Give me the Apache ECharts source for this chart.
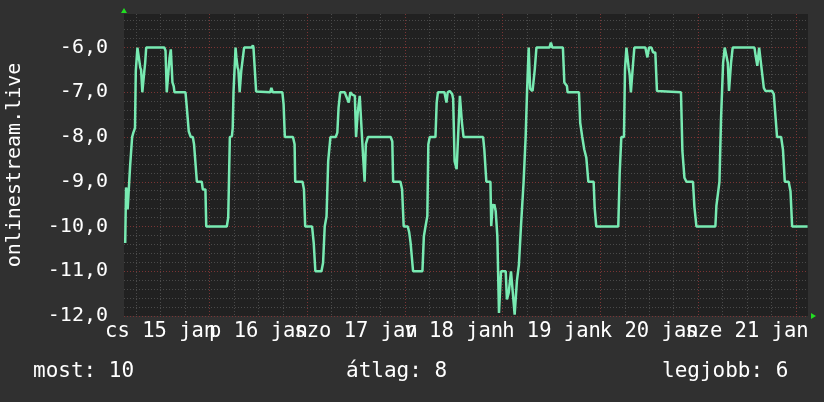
<!DOCTYPE html>
<html><head><meta charset="utf-8">
<script src="https://cdn.jsdelivr.net/npm/echarts@6/dist/echarts.min.js"></script>
<style>html,body{margin:0;padding:0;background:#303030;}#c{width:824px;height:402px;}</style>
</head><body><div id="c"></div><script>
// time in hours relative to Jan 16 00:00
const hours = [
-20.7,-20.5,-20.3,-20.1,-19.7,-19.5,-19.1,-19.0,-18.7,-18.3,-18.1,-17.85,-17.7,-17.3,-17.0,-16.8,-16.5,-16.2,-16.0,-15.8,-15.55,
-11.1,-10.8,-10.5,-10.1,-9.8,-9.5,-9.1,-8.8,-8.6,-5.9,-5.6,-5.3,-5.1,-4.6,-4.1,-3.8,-3.4,-3.1,-1.9,-1.65,-1.0,-0.8,
4.25,4.6,5.0,5.5,5.7,5.9,6.4,6.6,6.9,7.1,7.4,7.7,7.8,8.1,8.5,10.4,10.65,10.8,11.05,11.45,11.6,14.9,15.2,15.55,17.9,18.2,18.5,
20.5,20.9,21.05,22.85,23.2,23.5,25.2,25.6,26.0,27.5,27.9,28.3,28.75,29.15,29.7,31.0,31.4,31.7,32.1,33.2,34.2,34.6,35.05,35.7,
36.0,36.4,36.9,37.3,37.7,38.1,38.4,38.9,44.5,44.9,45.1,46.9,47.3,47.7,48.7,49.05,49.4,50.0,52.3,52.65,53.05,53.5,53.75,54.1,
55.5,55.8,56.1,57.7,58.2,58.5,59.0,59.6,59.85,60.2,60.7,61.5,62.0,62.4,67.2,67.5,68.0,69.0,69.2,69.55,69.8,69.95,70.3,70.7,
71.1,71.4,71.6,72.75,73.05,73.5,74.05,74.95,75.5,76.0,76.5,77.15,77.65,78.0,78.4,78.75,79.35,79.9,80.3,83.5,83.85,84.2,
86.8,87.15,87.8,87.95,90.75,91.05,91.55,92.05,92.55,93.05,94.35,94.6,95.0,100.4,100.75,101.15,101.8,102.05,102.4,102.7,
102.95,103.2,103.5,103.8,104.05,104.35,107.05,107.55,107.95,108.55,108.95,109.5,109.9,115.8,116.15,116.65,117.15,118.75,
119.1,119.35,119.6,124.25,124.5,124.85,125.25,125.65,126.15,126.55,126.95,127.3,127.6,128.1,128.5,133.85,134.15,134.55,
135.0,135.45,136.15,136.55,138.15,138.6,139.0,139.4,140.4,140.85,141.3,142.25,142.7,143.1,146.9
];
const values = [
-10.37,-9.13,-9.2,-9.62,-9.62,-8.65,-8.65,-8.0,-7.9,-7.8,-6.52,-6.49,-6.0,-6.0,-6.45,-6.5,-7.0,-7.0,-6.52,-6.34,-6.0,
-6.0,-6.07,-7.0,-7.0,-6.22,-6.04,-6.78,-6.86,-7.0,-7.0,-7.31,-7.34,-7.87,-8.0,-8.0,-8.16,-8.2,-9.0,-9.0,-9.17,-9.17,-10.0,
-10.0,-9.8,-8.0,-7.98,-7.8,-7.0,-6.0,-6.22,-6.45,-6.5,-7.0,-7.0,-6.52,-6.49,-6.0,-6.0,-5.95,-6.0,-6.04,-6.98,-7.0,-7.0,-6.9,-7.0,-7.0,-7.27,-8.0,
-8.0,-8.16,-9.0,-9.0,-9.17,-10.0,-10.0,-10.37,-11.0,-11.0,-10.81,-10.0,-9.77,-8.54,-8.0,-8.0,-7.9,-7.34,-7.0,-7.0,-7.23,-7.0,-7.05,-7.08,
-8.0,-7.46,-7.08,-7.08,-8.39,-9.0,-8.16,-8.0,-8.0,-8.1,-9.0,-9.0,-9.17,-10.0,-10.0,-10.13,-10.37,-11.0,-11.0,-10.22,-10.0,-9.77,-8.16,-8.0,
-8.0,-7.23,-7.0,-7.0,-7.23,-7.0,-6.97,-7.04,-7.15,-8.54,-8.72,-7.08,-7.68,-8.0,-8.0,-8.28,-9.0,-9.0,-9.99,-9.5,-9.57,-9.5,-9.66,-10.22,
-11.93,-11.93,-11.0,-11.0,-11.63,-11.48,-11.0,-11.97,-11.22,-10.85,-10.0,-9.0,-8.0,-6.97,-6.0,-6.92,-6.97,-6.48,-6.0,-6.0,-5.89,-6.0,
-6.0,-6.78,-6.86,-7.0,-7.0,-7.68,-8.0,-8.28,-8.46,-9.0,-9.0,-9.58,-10.0,-10.0,-8.8,-8.0,-8.0,-6.49,-6.0,-6.0,
-6.45,-6.6,-7.0,-7.0,-6.34,-6.0,-6.0,-6.22,-6.0,-6.0,-6.11,-6.11,-6.97,-7.0,-8.31,-8.91,-9.0,-9.0,
-9.56,-9.58,-10.0,-10.0,-9.54,-9.5,-9.0,-7.57,-6.34,-6.0,-6.0,-6.34,-6.97,-6.34,-6.0,-6.0,-6.19,-6.41,
-6.0,-6.04,-6.9,-6.97,-6.97,-7.04,-7.08,-8.0,-8.0,-8.28,-9.0,-9.0,-9.21,-10.0,-10.0
];
const xLabelHours = [-12, 12, 36, 60, 84, 108, 132];
const xLabels = ['cs 15 jan', 'p 16 jan', 'szo 17 jan', 'v 18 jan', 'h 19 jan', 'k 20 jan', 'sze 21 jan'];
const dayHours = [0, 24, 48, 72, 96, 120, 144];
const yTicks = [-12, -11, -10, -9, -8, -7, -6];
const yName = 'onlinestream.live';
const footer = ['most: 10', 'átlag: 8', 'legjobb: 6'];

const X_MIN = -21, X_MAX = 147, Y_MIN = -12, Y_MAX = -5.25;
const FONT = 'DejaVu Sans Mono';
const minorX = [];
for (let h = -18; h <= 144; h += 6) if (h % 24 !== 0) minorX.push(h);
const minorY = [];
for (let k = -59; k <= -27; k++) if (k % 5 !== 0) minorY.push(Math.round(k * 20) / 100);

const data = hours.map((h, i) => [h, values[i]]);
const labelMap = {};
xLabelHours.forEach((h, i) => labelMap[h] = xLabels[i]);
// labels split over two axes so that neighbouring (overlapping) labels are both kept
const labelsA = xLabelHours.filter((h, i) => i % 2 === 0);
const labelsB = xLabelHours.filter((h, i) => i % 2 === 1);

const chart = echarts.init(document.getElementById('c'), null, {renderer: 'canvas'});
const grid = {left: 124, right: 16, top: 14, bottom: 86, show: true, backgroundColor: '#212121', borderWidth: 0,
  containLabel: false, outerBoundsMode: 'none'};
const minorLine = {show: true, lineStyle: {color: '#4a4a4a', width: 1, type: [1, 2]}};
const majorLine = {show: true, lineStyle: {color: '#7a3434', width: 1, type: [1, 2]}};
const xLabelStyle = (vals) => ({show: true, customValues: vals, formatter: v => labelMap[v] || '',
  color: '#ffffff', fontFamily: FONT, fontSize: 20.5, margin: 5, hideOverlap: false,
  showMinLabel: true, showMaxLabel: true});
const option = {
  backgroundColor: '#303030',
  animation: false,
  grid: grid,
  title: footer.map((t, i) => ({
    text: t, left: [33, 346, 662][i], top: 361, padding: 0,
    textStyle: {fontFamily: FONT, fontSize: 21, fontWeight: 'normal', color: '#ffffff'}
  })),
  xAxis: [
    {type: 'value', min: X_MIN, max: X_MAX, z: 1, position: 'bottom',
     axisLine: {show: false}, axisTick: {show: false, customValues: minorX},
     axisLabel: {show: false}, splitLine: minorLine},
    {type: 'value', min: X_MIN, max: X_MAX, z: 2, position: 'bottom',
     axisLine: {show: false}, axisTick: {show: false, customValues: dayHours},
     axisLabel: xLabelStyle(labelsA), splitLine: majorLine},
    {type: 'value', min: X_MIN, max: X_MAX, z: 3, position: 'bottom',
     axisLine: {show: false}, axisTick: {show: false, customValues: labelsB},
     axisLabel: xLabelStyle(labelsB), splitLine: {show: false}}
  ],
  yAxis: [
    {type: 'value', min: Y_MIN, max: Y_MAX, z: 1, position: 'left',
     axisLine: {show: false}, axisTick: {show: false, customValues: minorY},
     axisLabel: {show: false}, splitLine: minorLine},
    {type: 'value', min: Y_MIN, max: Y_MAX, z: 2, position: 'left',
     axisLine: {show: false}, axisTick: {show: false, customValues: yTicks},
     axisLabel: {show: true, customValues: yTicks, formatter: v => v.toFixed(1).replace('.', ','),
       color: '#ffffff', fontFamily: FONT, fontSize: 20, margin: 16, showMinLabel: true, showMaxLabel: true},
     splitLine: majorLine,
     name: yName, nameLocation: 'middle', nameGap: 99,
     nameTextStyle: {color: '#ffffff', fontFamily: FONT, fontSize: 20}}
  ],
  series: [{
    type: 'line', xAxisIndex: 1, yAxisIndex: 1, data: data,
    showSymbol: false, symbol: 'none', z: 5,
    lineStyle: {color: '#78eab2', width: 2.5}
  }]
};
chart.setOption(option);
const tl = chart.convertToPixel({gridIndex: 0}, [X_MIN, Y_MAX]);
const br = chart.convertToPixel({gridIndex: 0}, [X_MAX, Y_MIN]);
chart.setOption({graphic: [
  {type: 'polygon', shape: {points: [[tl[0] - 3, tl[1] - 1], [tl[0] + 3, tl[1] - 1], [tl[0], tl[1] - 6]]}, style: {fill: '#22dd22'}, z: 10},
  {type: 'polygon', shape: {points: [[br[0] + 3, br[1] - 3], [br[0] + 3, br[1] + 3], [br[0] + 8, br[1]]]}, style: {fill: '#22dd22'}, z: 10}
]});
</script></body></html>
